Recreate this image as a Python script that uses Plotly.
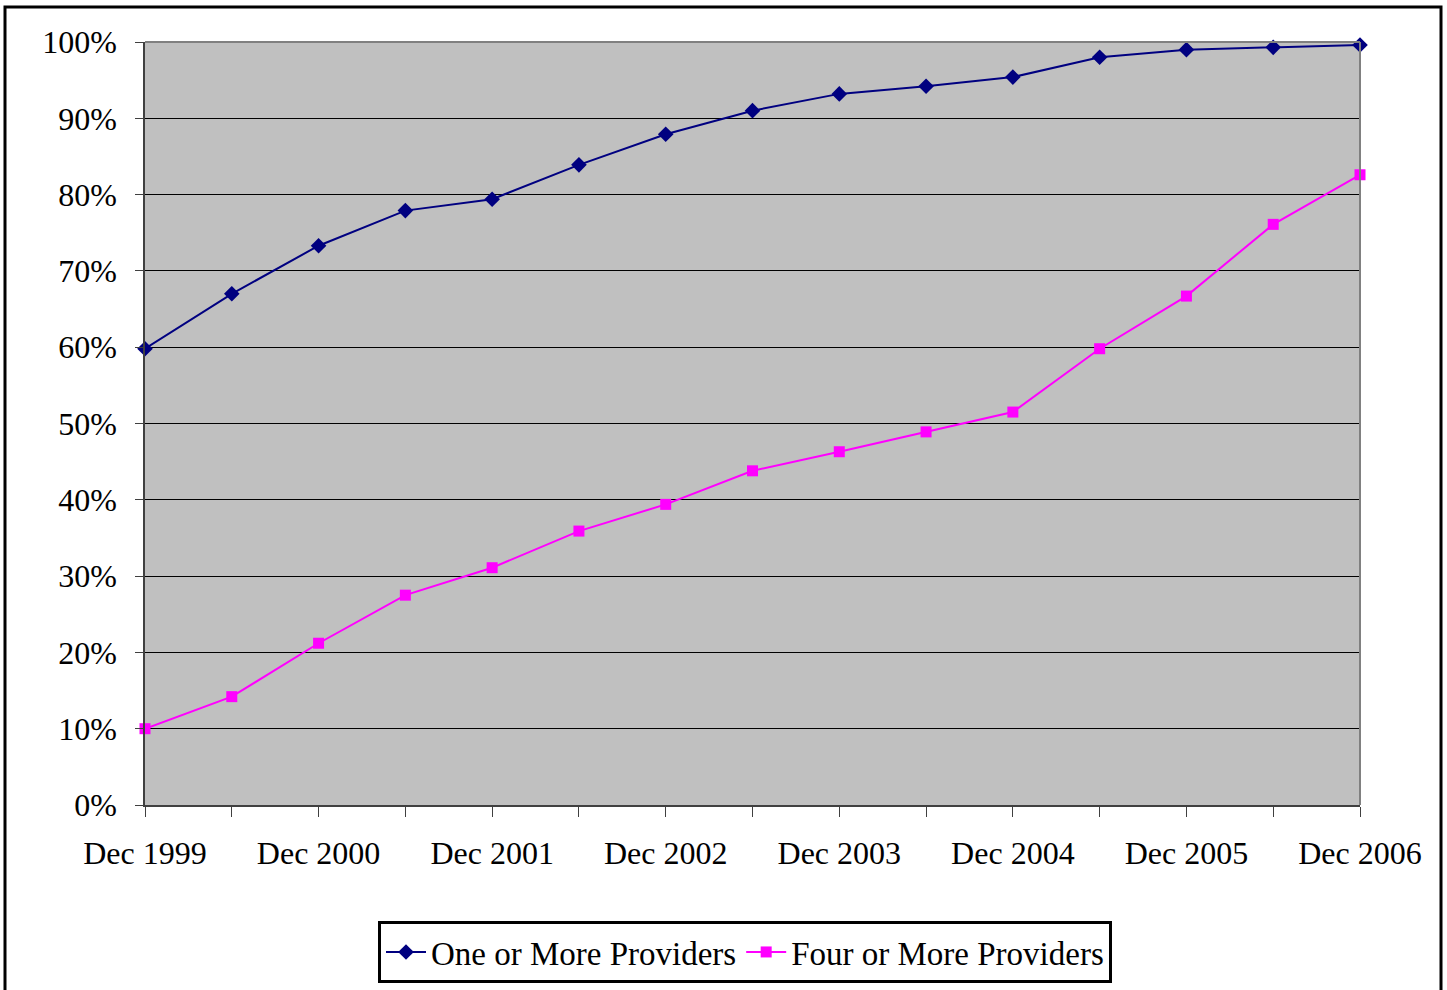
import plotly.graph_objects as go

periods = ["Dec 1999", "Jun 2000", "Dec 2000", "Jun 2001", "Dec 2001", "Jun 2002",
           "Dec 2002", "Jun 2003", "Dec 2003", "Jun 2004", "Dec 2004", "Jun 2005",
           "Dec 2005", "Jun 2006", "Dec 2006"]
one_or_more = [59.8, 67.0, 73.3, 77.9, 79.4, 83.9, 87.9, 91.0, 93.2, 94.2, 95.4, 98.0, 99.0, 99.3, 99.6]
four_or_more = [10.0, 14.2, 21.2, 27.5, 31.1, 35.9, 39.4, 43.8, 46.3, 48.9, 51.5, 59.8, 66.7, 76.1, 82.6]
tick_text = [p if p.startswith("Dec") else "" for p in periods]
y_ticks = list(range(0, 101, 10))
y_tick_text = [f"{v}%" for v in y_ticks]

W, H = 1447, 990
L, R, T, B = 145, 1360, 42, 805
pw, ph = R - L, B - T

def px(x):
    return (x - L) / pw

def py(y):
    return (B - y) / ph

font = dict(family="Liberation Serif, Times New Roman, serif", size=32, color="black")

fig = go.Figure()
fig.add_trace(go.Scatter(
    x=periods, y=one_or_more, name="One or More Providers", mode="lines+markers",
    line=dict(color="#000080", width=2),
    marker=dict(symbol="diamond", size=12, color="#000080"),
    cliponaxis=False,
))
fig.add_trace(go.Scatter(
    x=periods, y=four_or_more, name="Four or More Providers", mode="lines+markers",
    line=dict(color="#FF00FF", width=2),
    marker=dict(symbol="square", size=11, color="#FF00FF"),
    cliponaxis=False,
))

fig.update_layout(
    width=W, height=H,
    margin=dict(l=L, r=W - R, t=T, b=H - B, pad=0, autoexpand=False),
    paper_bgcolor="white",
    plot_bgcolor="#C0C0C0",
    font=font,
    showlegend=True,
    legend=dict(
        orientation="h", x=px(745), y=py(952), xanchor="center", yanchor="middle",
        bordercolor="black", borderwidth=3, bgcolor="white",
        font=dict(family="Liberation Serif, Times New Roman, serif", size=33, color="black"),
        itemwidth=40, tracegroupgap=0,
    ),
    xaxis=dict(
        type="category", range=[0, len(periods) - 1], automargin=False,
        tickmode="array", tickvals=periods, ticktext=tick_text,
        ticks="outside", ticklen=10, tickcolor="#404040", tickwidth=1,
        showgrid=False, showline=True, linecolor="#404040", linewidth=1.5,
        zeroline=False, ticklabelstandoff=9,
        tickfont=font,
    ),
    yaxis=dict(
        range=[0, 100], tickmode="array", tickvals=y_ticks, ticktext=y_tick_text,
        automargin=False,
        ticks="outside", ticklen=8, tickcolor="#404040", tickwidth=1,
        showgrid=True, gridcolor="black", gridwidth=1,
        showline=True, linecolor="#404040", linewidth=1.5,
        zeroline=False, ticklabelstandoff=12,
        tickfont=font,
    ),
    shapes=[
        dict(type="line", xref="paper", yref="paper", x0=0, x1=1, y0=1, y1=1,
             line=dict(color="#808080", width=2)),
        dict(type="line", xref="paper", yref="paper", x0=1, x1=1, y0=0, y1=1,
             line=dict(color="#808080", width=2)),
        dict(type="rect", xref="paper", yref="paper",
             x0=px(5), x1=px(1441), y0=py(1000), y1=py(7),
             line=dict(color="black", width=3), fillcolor="rgba(0,0,0,0)", layer="above"),
    ],
)

fig.write_html("out.html", config={"displayModeBar": False},
               post_script="document.body.style.margin='0';")
